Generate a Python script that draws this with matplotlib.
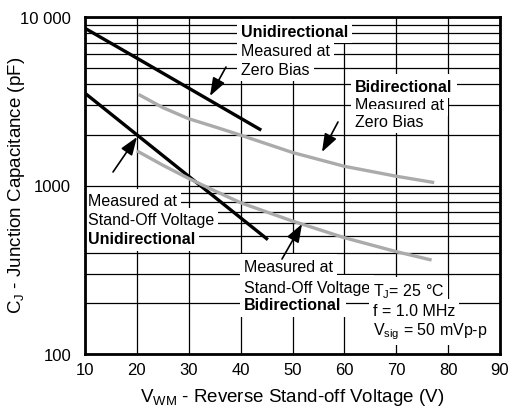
"""
Junction capacitance vs reverse stand-off voltage (datasheet style chart)
"""

import matplotlib
matplotlib.use('Agg')
import matplotlib.pyplot as plt
from matplotlib.ticker import FixedLocator, NullFormatter, NullLocator

plt.rcParams['font.family'] = ['Liberation Sans', 'DejaVu Sans']
plt.rcParams['mathtext.default'] = 'regular'

# ———————— DATA ————————
v_uni_zero = [10, 20, 43.7]
c_uni_zero = [8570, 5700, 2155]

v_uni_standoff = [10, 20, 45]
c_uni_standoff = [3530, 2000, 484]

v_bi_zero = [20.6, 25, 30, 35, 40, 50, 60, 70, 77]
c_bi_zero = [3435, 2900, 2490, 2230, 1990, 1570, 1300, 1135, 1045]

v_bi_standoff = [20.3, 25, 30, 35, 40, 50, 60, 70, 76.5]
c_bi_standoff = [1587, 1320, 1100, 930, 790, 615, 490, 405, 363]

x_ticks = [10, 20, 30, 40, 50, 60, 70, 80, 90]
y_ticks = [100, 1000, 10000]
y_tick_labels = ['100', '1000', '10 000']

GRAY = '#ababab'
W, H = 516, 414


def px(x, y):
    """pixel position in the picture -> axes fraction"""
    return ((x - 85) / 415, (355 - y) / 337)


fig = plt.figure(figsize=(W / 100, H / 100), dpi=100)
ax = fig.add_axes([85 / W, (H - 355) / H, 415 / W, 337 / H])

ax.set_yscale('log')
ax.set_xlim(10, 90)
ax.set_ylim(100, 10000)

# grid: every 10 V and every minor log step
minor = [m * d for d in (100, 1000) for m in range(2, 10)]
ax.xaxis.set_major_locator(FixedLocator(x_ticks))
ax.yaxis.set_major_locator(FixedLocator(y_ticks))
ax.yaxis.set_minor_locator(FixedLocator(minor))
ax.yaxis.set_minor_formatter(NullFormatter())
ax.xaxis.set_minor_locator(NullLocator())
ax.set_yticklabels(y_tick_labels)
ax.grid(True, which='both', color='black', linewidth=0.9, zorder=1)
ax.set_axisbelow(True)
ax.tick_params(which='both', length=0, labelsize=12)
ax.tick_params(axis='y', pad=10)
ax.tick_params(axis='x', pad=6)

for s in ax.spines.values():
    s.set_linewidth(2.0)
    s.set_zorder(10)

# curves
ax.plot(v_uni_zero, c_uni_zero, color='black', lw=2.4, zorder=5)
ax.plot(v_uni_standoff, c_uni_standoff, color='black', lw=2.4, zorder=5)
ax.plot(v_bi_zero, c_bi_zero, color=GRAY, lw=2.4, zorder=5)
ax.plot(v_bi_standoff, c_bi_standoff, color=GRAY, lw=2.4, zorder=5)

# text blocks on white
box = dict(facecolor='white', edgecolor='none', pad=3)


def block(x, ys, lines, bold_idx):
    for i, (y, t) in enumerate(zip(ys, lines)):
        fx, fy = px(x, y)
        ax.text(fx, fy, t, transform=ax.transAxes, fontsize=11.5,
                fontweight='bold' if i == bold_idx else 'normal',
                ha='left', va='center', bbox=box, zorder=3)


block(241, [32, 51, 70], ['Unidirectional', 'Measured at', 'Zero Bias'], 0)
block(355, [87, 105, 122], ['Bidirectional', 'Measured at', 'Zero Bias'], 0)
block(88, [202, 221, 240], ['Measured at', 'Stand-Off Voltage', 'Unidirectional'], 2)
block(244, [267, 288, 306], ['Measured at', 'Stand-Off Voltage', 'Bidirectional'], 2)
block(373, [292, 312, 332], ['T$_J$= 25 °C', 'f = 1.0 MHz', 'V$_{sig}$ = 50 mVp-p'], -1)

# arrows
arrows = [
    ((226, 68), (210, 97)),
    ((113, 173), (137, 138)),
    ((338, 123), (322, 153)),
    ((282, 260), (302, 225)),
]
for tail, head in arrows:
    ax.annotate('', xy=px(*head), xytext=px(*tail),
                xycoords='axes fraction', textcoords='axes fraction',
                arrowprops=dict(arrowstyle='-|>,head_length=1.1,head_width=0.4',
                                color='black', lw=1.2, shrinkA=0, shrinkB=0),
                zorder=6)

xl = ax.set_xlabel('V$_{WM}$ - Reverse Stand-off Voltage (V)', fontsize=13.5)
yl = ax.set_ylabel('C$_J$ - Junction Capacitance (pF)', fontsize=13.5)
xl.set_va('center')
yl.set_va('center')
ax.xaxis.set_label_coords(0.5, (355 - 398) / 337)
ax.yaxis.set_label_coords((17 - 85) / 415, (355 - 185) / 337)

fig.savefig('out.png', dpi=100, facecolor='white')
